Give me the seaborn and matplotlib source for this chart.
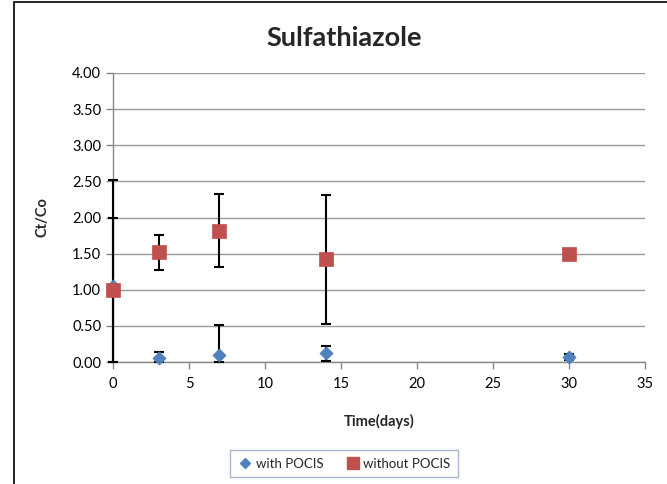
import matplotlib
matplotlib.use("Agg")
import matplotlib.pyplot as plt
import seaborn as sns
import pandas as pd
import numpy as np
from matplotlib.patches import Rectangle
from matplotlib.lines import Line2D

days = [0, 3, 7, 14, 30]
with_pocis = [1.05, 0.05, 0.10, 0.12, 0.07]
with_pocis_err = [1.47, 0.09, 0.41, 0.10, 0.04]
without_pocis = [1.00, 1.52, 1.82, 1.42, 1.49]
without_pocis_err = [1.00, 0.24, 0.51, 0.89, 0.0]
y_ticks = [0.0, 0.5, 1.0, 1.5, 2.0, 2.5, 3.0, 3.5, 4.0]
x_ticks = [0, 5, 10, 15, 20, 25, 30, 35]

sns.set_theme(style="white")
plt.rcParams['font.family'] = ['Lato', 'DejaVu Sans']

blue = "#4F81BD"
red = "#C0504D"

df = pd.DataFrame({
    "day": days * 2,
    "ratio": with_pocis + without_pocis,
    "series": ["with POCIS"] * len(days) + ["without POCIS"] * len(days),
})

fig = plt.figure(figsize=(6.67, 4.84), dpi=100)
ax = fig.add_axes([113/667, 1 - 362/484, (645 - 113)/667, (362 - 73)/484])


def draw_err(y, err):
    y = np.asarray(y)
    err = np.asarray(err)
    lower = np.minimum(err, y)  # axis floor at 0 (display clipping)
    ax.errorbar(days, y, yerr=[lower, err], fmt="none", ecolor="black",
                elinewidth=1.5, capsize=3.5, capthick=1.5, zorder=3, clip_on=False)


draw_err(with_pocis, with_pocis_err)
draw_err(without_pocis, without_pocis_err)

sns.scatterplot(data=df[df.series == "with POCIS"], x="day", y="ratio", marker="D",
                color=blue, s=45, edgecolor=blue, linewidth=0.5, ax=ax, zorder=4,
                legend=False, clip_on=False)
sns.scatterplot(data=df[df.series == "without POCIS"], x="day", y="ratio", marker="s",
                color=red, s=105, edgecolor=red, linewidth=0.5, ax=ax, zorder=5,
                legend=False, clip_on=False)

ax.set_xlim(0, 35)
ax.set_ylim(0, 4)
ax.set_xticks(x_ticks)
ax.set_yticks(y_ticks)
ax.set_yticklabels([f"{v:.2f}" for v in y_ticks])
ax.tick_params(axis="both", labelsize=10.5, length=5, width=1,
               direction="out", left=True, bottom=True, colors="#888888",
               labelcolor="black")
ax.tick_params(axis="x", pad=6)
ax.yaxis.grid(True, color="#999999", linewidth=1)
ax.xaxis.grid(False)
for s in ["top", "right"]:
    ax.spines[s].set_visible(False)
for s in ["left", "bottom"]:
    ax.spines[s].set_color("#888888")
    ax.spines[s].set_linewidth(1)

ax.set_xlabel("Time(days)", fontsize=10.5, fontweight="bold", labelpad=16)
ax.set_ylabel("Ct/Co", fontsize=10.5, fontweight="bold", labelpad=16)
fig.text(344/667, 1 - 38/484, "Sulfathiazole", ha="center", va="center",
         fontsize=19.5, fontweight="bold")

handles = [
    Line2D([], [], marker="D", color=blue, linestyle="none", markersize=5),
    Line2D([], [], marker="s", color=red, linestyle="none", markersize=8),
]
leg = fig.legend(handles, ["with POCIS", "without POCIS"], loc="center",
                 bbox_to_anchor=(344/667, 1 - 463.5/484), ncol=2, fontsize=9.5,
                 frameon=True, fancybox=False, handletextpad=0.2, columnspacing=1.6,
                 handlelength=1.2, borderpad=0.6, borderaxespad=0)
leg.get_frame().set_edgecolor("#8EA9C8")
leg.get_frame().set_linewidth(1)

fig.patches.append(Rectangle((14/667, -0.1), 1.2, 1.1 - 2/484, transform=fig.transFigure,
                             fill=False, edgecolor="black", linewidth=1.2))

fig.savefig("out.png", dpi=100)
